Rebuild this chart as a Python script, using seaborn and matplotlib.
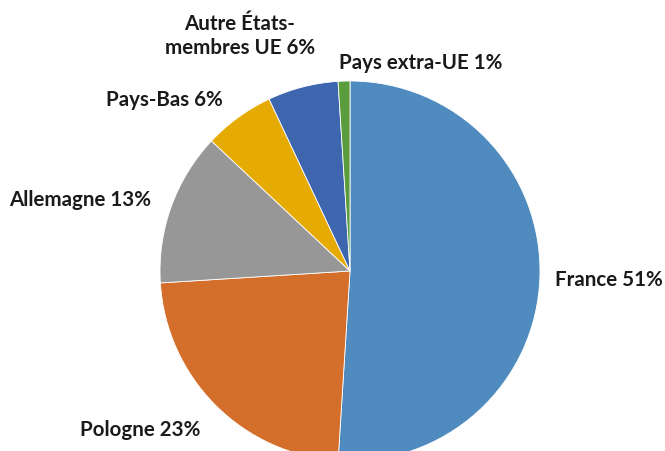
import numpy as np
import matplotlib
matplotlib.use("Agg")
import matplotlib.pyplot as plt
import seaborn as sns

# Data
categories = ["France", "Pologne", "Allemagne", "Pays-Bas",
              "Autre États-\nmembres UE", "Pays extra-UE"]
shares = [51, 23, 13, 6, 6, 1]
palette = ["#4F8BBE", "#D36F2B", "#979797", "#E6AB02", "#3D66AF", "#5B9C3C"]

# label layout: radial distance, angle tweak (deg), alignment
label_dist = [1.08, 1.145, 1.112, 1.128, 1.371, 1.10]
label_dtheta = [-0.5, 1.5, 0.0, 0.5, 10.6, 1.2]
label_ha = ["left", "right", "right", "right", "center", "left"]

sns.set_theme(style="white")
plt.rcParams["font.family"] = ["Lato", "DejaVu Sans"]

fig = plt.figure(figsize=(6.65, 4.52), dpi=100)
ax = fig.add_axes([0, 0, 1, 1])

wedges, _ = ax.pie(
    shares,
    colors=palette,
    startangle=90,
    counterclock=False,
    wedgeprops=dict(edgecolor="white", linewidth=0.6),
)

for w, name, pct, d, dt, ha in zip(wedges, categories, shares,
                                   label_dist, label_dtheta, label_ha):
    ang = np.deg2rad((w.theta1 + w.theta2) / 2 + dt)
    ax.text(d * np.cos(ang), d * np.sin(ang), f"{name} {pct}%",
            ha=ha, va="center", fontsize=14.8, fontweight="bold",
            color="#1a1a1a", linespacing=1.2)

ax.set_xlim(-350 / 190, 315 / 190)
ax.set_ylim(-180 / 190, 272 / 190)
ax.set_aspect("equal", adjustable="box")
ax.set_axis_off()

fig.savefig("out.png", dpi=100)
